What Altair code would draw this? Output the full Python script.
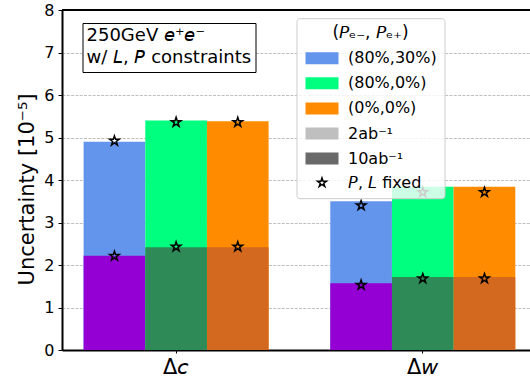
import math
import altair as alt
import pandas as pd

# ---------------- data ----------------
params = ["Δ𝘤", "Δ𝘸"]
pols = ["(80%,30%)", "(80%,0%)", "(0%,0%)"]
lumis = ["2ab⁻¹", "10ab⁻¹"]

# bar heights [1e-5]
dc_2ab = [4.90, 5.40, 5.38]
dc_10ab = [2.22, 2.42, 2.42]
dw_2ab = [3.50, 3.84, 3.84]
dw_10ab = [1.57, 1.72, 1.72]

# "P, L fixed" star markers
dc_2ab_fixed = [4.92, 5.36, 5.36]
dc_10ab_fixed = [2.21, 2.43, 2.43]
dw_2ab_fixed = [3.40, 3.71, 3.71]
dw_10ab_fixed = [1.53, 1.68, 1.68]

fixed_label = "𝘗, 𝘓 fixed"
box_text = ["250GeV 𝘦⁺𝘦⁻", "w/ 𝘓, 𝘗 constraints"]
legend_title = "(𝘗ₑ₋, 𝘗ₑ₊)"

FONT = "DejaVu Sans"

# ---------------- tables ----------------
def long_table(series):
    rows = []
    for (param, lumi), vals in series.items():
        for pol, v in zip(pols, vals):
            rows.append({"param": param, "pol": pol, "lumi": lumi,
                         "key": pol + " " + lumi, "value": v})
    return pd.DataFrame(rows)

bars = long_table({(params[0], lumis[0]): dc_2ab, (params[0], lumis[1]): dc_10ab,
                   (params[1], lumis[0]): dw_2ab, (params[1], lumis[1]): dw_10ab})
stars = long_table({(params[0], lumis[0]): dc_2ab_fixed, (params[0], lumis[1]): dc_10ab_fixed,
                    (params[1], lumis[0]): dw_2ab_fixed, (params[1], lumis[1]): dw_10ab_fixed})

legend_entries = pols + lumis + [fixed_label]
legend_df = pd.DataFrame({"entry": legend_entries})
box_df = pd.DataFrame({"line": ["box"]})

# ---------------- styles ----------------
light = ["#6495ED", "#00FF7F", "#FF8C00"]
dark = ["#9400D3", "#2E8B57", "#D2691E"]
bar_keys = [p + " " + lumis[0] for p in pols] + [p + " " + lumis[1] for p in pols]
bar_colors = light + dark


def star_path(R, ratio=0.381966):
    pts = []
    for k in range(10):
        ang = -math.pi / 2 + k * math.pi / 5
        r = R if k % 2 == 0 else R * ratio
        pts.append((r * math.cos(ang), r * math.sin(ang)))
    return "M" + "L".join(f"{x:.4f},{y:.4f}" for x, y in pts) + "Z"


# legend symbols drawn at size 100 (scale 5 px per path unit)
rect_path = "M-3.3,-1.2H3.3V1.2H-3.3Z"

x_enc = alt.X("param:N", sort=params, title=None,
              scale=alt.Scale(domain=params, paddingInner=0.25, paddingOuter=0.0736, align=0.595),
              axis=alt.Axis(labelFontSize=21, labelFont=FONT, labelAngle=0, domainColor="black",
                            domainWidth=2, tickColor="black", tickSize=3, tickWidth=1,
                            labelPadding=3, labelColor="black", grid=False))
xoff = alt.XOffset("pol:N", sort=pols, scale=alt.Scale(domain=pols, paddingInner=0, paddingOuter=0))
y_enc = alt.Y("value:Q", title="Uncertainty [10⁻⁵]",
              scale=alt.Scale(domain=[0, 8], nice=False, zero=True),
              axis=alt.Axis(values=list(range(9)), format="d", labelFontSize=16, labelFont=FONT,
                            labelColor="black", titleFont=FONT,
                            titleFontSize=21, titleFontWeight="normal", titleColor="black",
                            domainColor="black", domainWidth=2, tickColor="black", tickSize=4,
                            tickWidth=1, labelPadding=4, grid=True, gridColor="#b0b0b0",
                            gridDash=[3, 1.3], gridWidth=0.8, titleX=-29, titleY=179,
                            titleAngle=270, titleBaseline="alphabetic", titleAlign="center"))

color_enc = alt.Color("key:N", scale=alt.Scale(domain=bar_keys, range=bar_colors), legend=None)

bars_2ab = alt.Chart(bars).transform_filter(alt.datum.lumi == lumis[0]).mark_bar(
    strokeWidth=0).encode(x=x_enc, xOffset=xoff, y=y_enc, color=color_enc)
bars_10ab = alt.Chart(bars).transform_filter(alt.datum.lumi == lumis[1]).mark_bar(
    strokeWidth=0).encode(x=x_enc, xOffset=xoff, y=y_enc, color=color_enc)

star_marks = alt.Chart(stars).mark_point(
    shape=star_path(1.0), size=100, filled=False, stroke="black", strokeWidth=1.5, opacity=1
).encode(x=x_enc, xOffset=xoff, y=y_enc)

top_spine = alt.Chart(bars).mark_rule(color="black", strokeWidth=2).encode(y=alt.YDatum(8))

main_legend = alt.Legend(
    orient="none", legendX=234.5, legendY=8.2, title=legend_title,
    titleFont=FONT, titleFontSize=17, titleFontWeight="normal", titleColor="black",
    titleAnchor="middle", titleAlign="center", titlePadding=8,
    labelFont=FONT, labelFontSize=16, labelColor="black", labelLimit=0, labelOffset=18,
    symbolSize=100, symbolStrokeWidth=1.5, symbolOffset=10.5,
    rowPadding=7.1, padding=7, fillColor="rgba(255,255,255,0.8)",
    strokeColor="#cccccc", cornerRadius=3,
)
fills = light + ["#bfbfbf", "#696969", "transparent"]
strokes = ["transparent"] * 5 + ["black"]
shapes = [rect_path] * 5 + [star_path(0.95)]

legend_layer = alt.Chart(legend_df).mark_point(
    filled=True, size=100, strokeWidth=1.5, opacity=1, clip=True
).encode(
    y=alt.value(-500),
    fill=alt.Fill("entry:N", sort=legend_entries,
                  scale=alt.Scale(domain=legend_entries, range=fills), legend=main_legend),
    stroke=alt.Stroke("entry:N", sort=legend_entries,
                      scale=alt.Scale(domain=legend_entries, range=strokes), legend=main_legend),
    shape=alt.Shape("entry:N", sort=legend_entries,
                    scale=alt.Scale(domain=legend_entries, range=shapes), legend=main_legend),
)

# annotation box drawn as a legend whose (two-line) title carries the text
box_legend = alt.Legend(
    orient="none", legendX=20.5, legendY=13, title=box_text,
    titleFont=FONT, titleFontSize=18, titleFontWeight="normal", titleColor="black",
    titleLineHeight=21.5, titleAnchor="start", titleAlign="left", titlePadding=0, titleLimit=0,
    labelExpr="''", labelFontSize=1, labelOpacity=0, labelOffset=0,
    symbolSize=1, symbolStrokeWidth=0, symbolOpacity=0, rowPadding=0,
    padding=4, fillColor="white", strokeColor="black", cornerRadius=0,
)
box_layer = alt.Chart(box_df).mark_point(size=1, opacity=0, clip=True).encode(
    y=alt.value(-500),
    strokeDash=alt.StrokeDash("line:N", scale=alt.Scale(domain=["box"]), legend=box_legend),
)

chart = alt.layer(
    bars_2ab, bars_10ab, star_marks, top_spine, legend_layer, box_layer
).resolve_scale(color="independent").properties(
    width=468, height=340,
    autosize=alt.AutoSizeParams(type="none"),
    padding={"left": 62, "top": 10, "right": 0, "bottom": 32},
).configure(font=FONT).configure_view(stroke=None)

chart.save("out.html", embed_options={"renderer": "svg", "actions": False})
